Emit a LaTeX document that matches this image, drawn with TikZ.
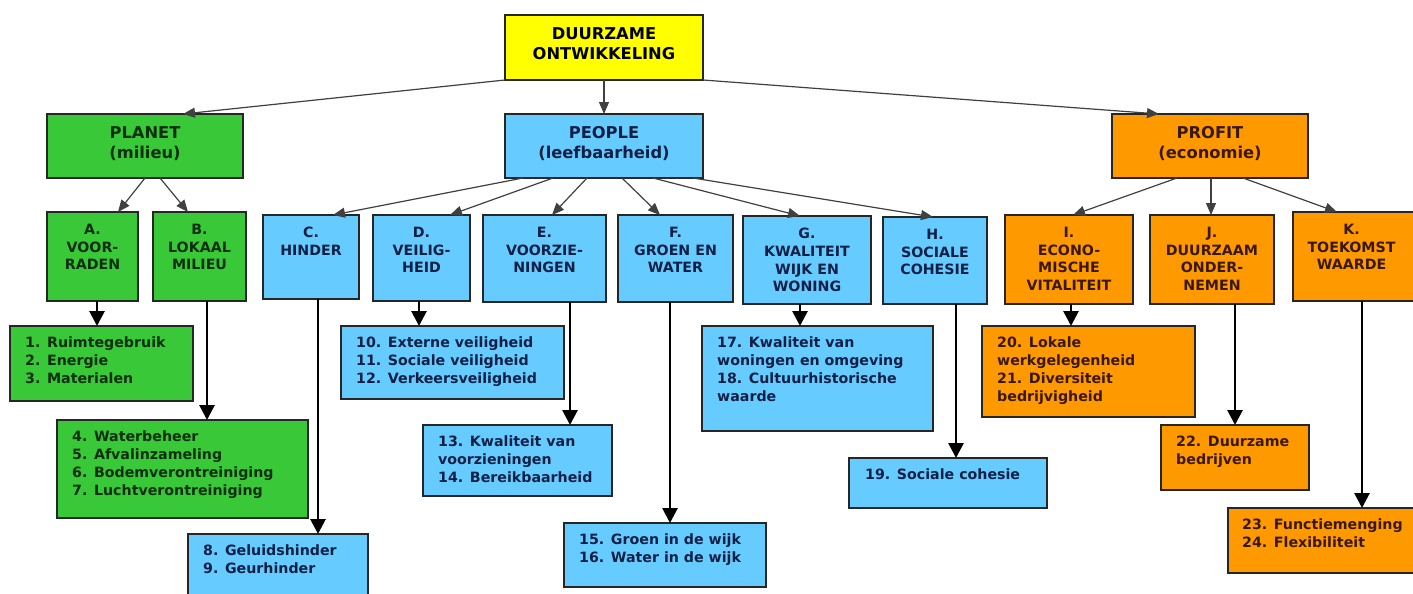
\documentclass[tikz,border=0pt]{standalone}
\usepackage{fontspec}
\setmainfont{DejaVu Sans}
\usetikzlibrary{arrows.meta}
\definecolor{cyel}{HTML}{FFFF00}
\definecolor{cgrn}{HTML}{38C838}
\definecolor{cblu}{HTML}{66CCFF}
\definecolor{corg}{HTML}{FF9900}
\definecolor{tgrn}{HTML}{0E2E0E}
\definecolor{tblu}{HTML}{0F1F45}
\definecolor{torg}{HTML}{3A1800}
\definecolor{cline}{HTML}{404040}
\newcommand{\bfnt}{\fontsize{14.2}{17.7}\selectfont\bfseries}
\newcommand{\tfnt}{\fontsize{16.3}{20}\selectfont\bfseries}
\tikzset{
  box/.style={draw=black!85, line width=1.4pt, inner sep=0pt, outer sep=0pt, anchor=north west},
  wh/.style 2 args={minimum width=#1pt, minimum height=#2pt},
  gbox/.style={box, fill=cgrn},
  bbox/.style={box, fill=cblu},
  obox/.style={box, fill=corg},
  hd/.style={inner sep=0pt, anchor=north, align=center, font=\bfnt},
  th/.style={inner sep=0pt, anchor=north, align=center, font=\tfnt},
  it/.style={inner sep=0pt, anchor=north west, align=left, font=\bfnt},
  thinarr/.style={draw=cline, line width=1.2pt, -{Triangle[length=12pt,width=10pt]}},
  thickarr/.style={draw=black, line width=2.8pt, -{Triangle[length=15pt,width=15pt]}},
}
\begin{document}
\begin{tikzpicture}[x=1pt,y=-1pt]
\useasboundingbox (0,0) rectangle (1413,594);
\fill[white] (0,0) rectangle (1413,594);

% top level
\node[box, fill=cyel, wh={198}{65}] (top) at (505,15) {};
\node[th, text=black] (topt) at ([yshift=-12]top.north) {DUURZAME\\ONTWIKKELING};

\node[gbox, wh={196}{64}] (planet) at (47,114) {};
\node[th, text=tgrn] (planett) at ([yshift=-12]planet.north) {PLANET\\(milieu)};
\node[bbox, wh={198}{64}] (people) at (505,114) {};
\node[th, text=tblu] (peoplet) at ([yshift=-12]people.north) {PEOPLE\\(leefbaarheid)};
\node[obox, wh={196}{64}] (profit) at (1112,114) {};
\node[th, text=torg] (profitt) at ([yshift=-12]profit.north) {PROFIT\\(economie)};

% second level
\node[gbox, wh={91}{89}] (A) at (47,212) {};
\node[hd, text=tgrn] (At) at ([yshift=-12]A.north) {A.\\VOOR-\\RADEN};
\node[gbox, wh={93}{89}] (B) at (153,212) {};
\node[hd, text=tgrn] (Bt) at ([yshift=-12]B.north) {B.\\LOKAAL\\MILIEU};
\node[bbox, wh={96}{84}] (C) at (263,215) {};
\node[hd, text=tblu] (Ct) at ([yshift=-12]C.north) {C.\\HINDER};
\node[bbox, wh={97}{86}] (D) at (373,215) {};
\node[hd, text=tblu] (Dt) at ([yshift=-12]D.north) {D.\\VEILIG-\\HEID};
\node[bbox, wh={123}{87}] (E) at (483,215) {};
\node[hd, text=tblu] (Et) at ([yshift=-12]E.north) {E.\\VOORZIE-\\NINGEN};
\node[bbox, wh={115}{87}] (F) at (618,215) {};
\node[hd, text=tblu] (Ft) at ([yshift=-12]F.north) {F.\\GROEN EN\\WATER};
\node[bbox, wh={128}{88}] (G) at (743,216) {};
\node[hd, text=tblu] (Gt) at ([yshift=-12]G.north) {G.\\KWALITEIT\\WIJK EN\\WONING};
\node[bbox, wh={104}{87}] (H) at (883,217) {};
\node[hd, text=tblu] (Ht) at ([yshift=-12]H.north) {H.\\SOCIALE\\COHESIE};
\node[obox, wh={128}{89}] (I) at (1005,215) {};
\node[hd, text=torg] (It) at ([yshift=-12]I.north) {I.\\ECONO-\\MISCHE\\VITALITEIT};
\node[obox, wh={124}{89}] (J) at (1150,215) {};
\node[hd, text=torg] (Jt) at ([yshift=-12]J.north) {J.\\DUURZAAM\\ONDER-\\NEMEN};
\node[obox, wh={125}{89}] (K) at (1293,212) {};
\node[hd, text=torg] (Kt) at ([yshift=-12,xshift=-4]K.north) {K.\\TOEKOMST\\WAARDE};

% detail boxes
\node[gbox, wh={183}{75}] (b13) at (10,326) {};
\node[it, text=tgrn] (b13t) at ([xshift=15,yshift=-11]b13.north west) {1. Ruimtegebruik\\2. Energie\\3. Materialen};
\node[gbox, wh={251}{98}] (b47) at (57,420) {};
\node[it, text=tgrn] (b47t) at ([xshift=15,yshift=-11]b47.north west) {4. Waterbeheer\\5. Afvalinzameling\\6. Bodemverontreiniging\\7. Luchtverontreiniging};
\node[bbox, wh={180}{70}] (b89) at (188,534) {};
\node[it, text=tblu] (b89t) at ([xshift=15,yshift=-11]b89.north west) {8. Geluidshinder\\9. Geurhinder};
\node[bbox, wh={223}{73}] (b1012) at (341,326) {};
\node[it, text=tblu] (b1012t) at ([xshift=15,yshift=-11]b1012.north west) {10. Externe veiligheid\\11. Sociale veiligheid\\12. Verkeersveiligheid};
\node[bbox, wh={189}{71}] (b1314) at (423,425) {};
\node[it, text=tblu] (b1314t) at ([xshift=15,yshift=-11]b1314.north west) {13. Kwaliteit van\\voorzieningen\\14. Bereikbaarheid};
\node[bbox, wh={202}{64}] (b1516) at (564,523) {};
\node[it, text=tblu] (b1516t) at ([xshift=15,yshift=-11]b1516.north west) {15. Groen in de wijk\\16. Water in de wijk};
\node[bbox, wh={231}{105}] (b1718) at (702,326) {};
\node[it, text=tblu] (b1718t) at ([xshift=15,yshift=-11]b1718.north west) {17. Kwaliteit van\\woningen en omgeving\\18. Cultuurhistorische\\waarde};
\node[bbox, wh={198}{50}] (b19) at (849,458) {};
\node[it, text=tblu] (b19t) at ([xshift=16,yshift=-11]b19.north west) {19. Sociale cohesie};
\node[obox, wh={213}{91}] (b2021) at (982,326) {};
\node[it, text=torg] (b2021t) at ([xshift=15,yshift=-11]b2021.north west) {20. Lokale\\werkgelegenheid\\21. Diversiteit\\bedrijvigheid};
\node[obox, wh={148}{65}] (b22) at (1161,425) {};
\node[it, text=torg] (b22t) at ([xshift=15,yshift=-11]b22.north west) {22. Duurzame\\bedrijven};
\node[obox, wh={190}{65}] (b2324) at (1228,508) {};
\node[it, text=torg] (b2324t) at ([xshift=14,yshift=-11]b2324.north west) {23. Functiemenging\\24. Flexibiliteit};

% thin connectors
\draw[thinarr] (top.south west) -- ([xshift=136]planet.north west);
\draw[thinarr] (top.south) -- (people.north);
\draw[thinarr] (top.south east) -- ([xshift=47]profit.north west);
\draw[thinarr] ([xshift=98]planet.south west) -- ([xshift=71]A.north west);
\draw[thinarr] ([xshift=113]planet.south west) -- ([xshift=35]B.north west);
\draw[thinarr] ([xshift=18]people.south west) -- ([xshift=70]C.north west);
\draw[thinarr] ([xshift=48]people.south west) -- ([xshift=77]D.north west);
\draw[thinarr] ([xshift=82]people.south west) -- ([xshift=69]E.north west);
\draw[thinarr] ([xshift=117]people.south west) -- ([xshift=42]F.north west);
\draw[thinarr] ([xshift=148]people.south west) -- ([xshift=57]G.north west);
\draw[thinarr] ([xshift=188]people.south west) -- ([xshift=50]H.north west);
\draw[thinarr] ([xshift=65]profit.south west) -- ([xshift=68]I.north west);
\draw[thinarr] ([xshift=99]profit.south west) -- ([xshift=61]J.north west);
\draw[thinarr] ([xshift=131]profit.south west) -- ([xshift=44]K.north west);

% thick connectors
\draw[thickarr] ([xshift=50]A.south west) -- ([xshift=87]b13.north west);
\draw[thickarr] ([xshift=54]B.south west) -- ([xshift=150]b47.north west);
\draw[thickarr] ([xshift=55]C.south west) -- ([xshift=130]b89.north west);
\draw[thickarr] ([xshift=46]D.south west) -- ([xshift=78]b1012.north west);
\draw[thickarr] ([xshift=87]E.south west) -- ([xshift=147]b1314.north west);
\draw[thickarr] ([xshift=52]F.south west) -- ([xshift=106]b1516.north west);
\draw[thickarr] ([xshift=57]G.south west) -- ([xshift=98]b1718.north west);
\draw[thickarr] ([xshift=73]H.south west) -- ([xshift=107]b19.north west);
\draw[thickarr] ([xshift=66]I.south west) -- ([xshift=89]b2021.north west);
\draw[thickarr] ([xshift=85]J.south west) -- ([xshift=74]b22.north west);
\draw[thickarr] ([xshift=69]K.south west) -- ([xshift=134]b2324.north west);
\end{tikzpicture}
\end{document}
